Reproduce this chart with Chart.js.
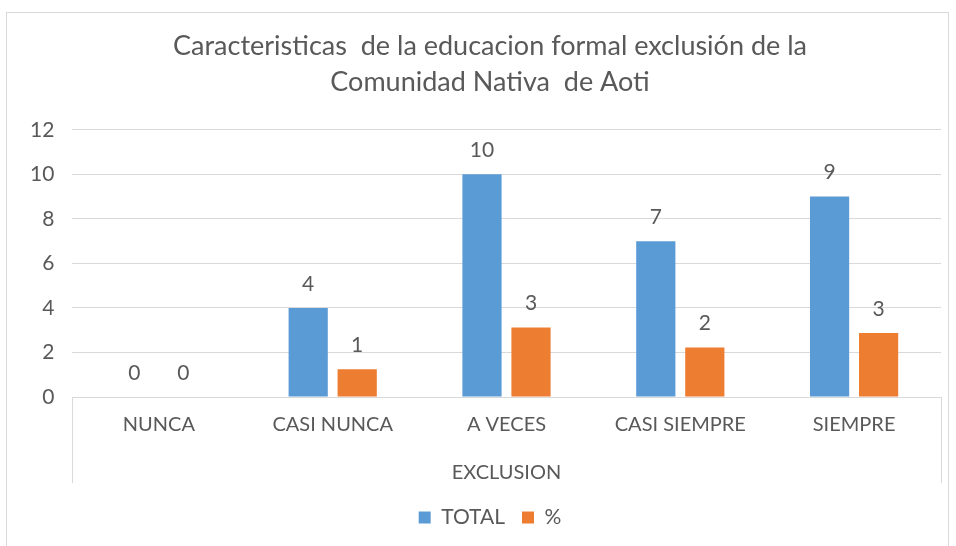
<!DOCTYPE html>
<html>
<head>
<meta charset="utf-8">
<script src="https://cdn.jsdelivr.net/npm/chart.js@4"></script>
<style>
  body { margin: 0; background: #fff; }
  #frame { position: absolute; left: 6px; top: 12px; width: 941px; height: 560px; border: 1px solid #d9d9d9; }
  #wrap { position: absolute; left: 0; top: 0; width: 956px; height: 546px; }
</style>
</head>
<body>
<div id="frame"></div>
<div id="wrap"><canvas id="exclusion-chart"></canvas></div>
<script>
const categories = ['NUNCA', 'CASI NUNCA', 'A VECES', 'CASI SIEMPRE', 'SIEMPRE'];
const totalValues = [0, 4, 10, 7, 9];
const percentValues = [0, 1.25, 3.12, 2.22, 2.87];
const titleLines = ['Caracteristicas  de la educacion formal exclusión de la', 'Comunidad Nativa  de Aoti'];
const axisTitle = 'EXCLUSION';

const textColor = '#595959';
const fontFamily = 'Lato, "Open Sans", sans-serif';

// value labels above each bar (rounded like the original)
const barLabels = {
  id: 'barLabels',
  afterDatasetsDraw(chart) {
    const c = chart.ctx;
    c.save();
    c.fillStyle = textColor;
    c.font = '21px ' + fontFamily;
    c.textAlign = 'center';
    c.textBaseline = 'middle';
    chart.data.datasets.forEach((ds, i) => {
      chart.getDatasetMeta(i).data.forEach((bar, j) => {
        c.fillText(Math.round(ds.data[j]), bar.x, bar.y - 24);
      });
    });
    c.restore();
  }
};

// box around the category axis labels
const axisBox = {
  id: 'axisBox',
  afterDraw(chart) {
    const c = chart.ctx;
    const area = chart.chartArea;
    const x = chart.scales.x;
    c.save();
    c.strokeStyle = '#d9d9d9';
    c.lineWidth = 1;
    c.beginPath();
    c.moveTo(Math.round(area.left) + 0.5, area.bottom);
    c.lineTo(Math.round(area.left) + 0.5, x.bottom - 7);
    c.moveTo(Math.round(area.right) + 0.5, area.bottom);
    c.lineTo(Math.round(area.right) + 0.5, x.bottom - 7);
    c.stroke();
    c.restore();
  }
};

const ctx = document.getElementById('exclusion-chart');

const chart = new Chart(ctx, {
  type: 'bar',
  data: {
    labels: categories,
    datasets: [{
      label: 'TOTAL',
      data: totalValues,
      backgroundColor: '#5b9bd5',
      categoryPercentage: 0.564,
      barPercentage: 0.8
    }, {
      label: '%',
      data: percentValues,
      backgroundColor: '#ed7d31',
      categoryPercentage: 0.564,
      barPercentage: 0.8
    }]
  },
  options: {
    responsive: true,
    maintainAspectRatio: false,
    animation: false,
    layout: {
      padding: { left: 39, right: 15, top: 12, bottom: 8 }
    },
    scales: {
      x: {
        grid: { display: false, drawTicks: false },
        border: { display: true, color: '#d9d9d9' },
        ticks: {
          color: textColor,
          padding: 16,
          font: { family: fontFamily, size: 20 }
        },
        title: {
          display: true,
          text: axisTitle,
          color: textColor,
          padding: { top: 8, bottom: 5 },
          font: { family: fontFamily, size: 20 }
        }
      },
      y: {
        min: 0,
        max: 12,
        grid: { color: '#d9d9d9', drawTicks: false },
        border: { display: false },
        ticks: {
          stepSize: 2,
          color: textColor,
          // mirrored so the labels are not clipped to the narrow axis box
          mirror: true,
          crossAlign: 'far',
          padding: -42,
          font: { family: fontFamily, size: 21 }
        },
        afterFit(scale) { scale.width = 33; }
      }
    },
    plugins: {
      title: {
        display: true,
        text: titleLines,
        color: textColor,
        padding: { top: 16, bottom: 30 },
        font: { family: fontFamily, size: 27, weight: 'normal', lineHeight: 1.33 }
      },
      legend: {
        position: 'bottom',
        labels: {
          color: textColor,
          boxWidth: 12,
          boxHeight: 12,
          padding: 17,
          font: { family: fontFamily, size: 21 }
        }
      },
      tooltip: { enabled: false }
    }
  },
  plugins: [barLabels, axisBox]
});
</script>
</body>
</html>
